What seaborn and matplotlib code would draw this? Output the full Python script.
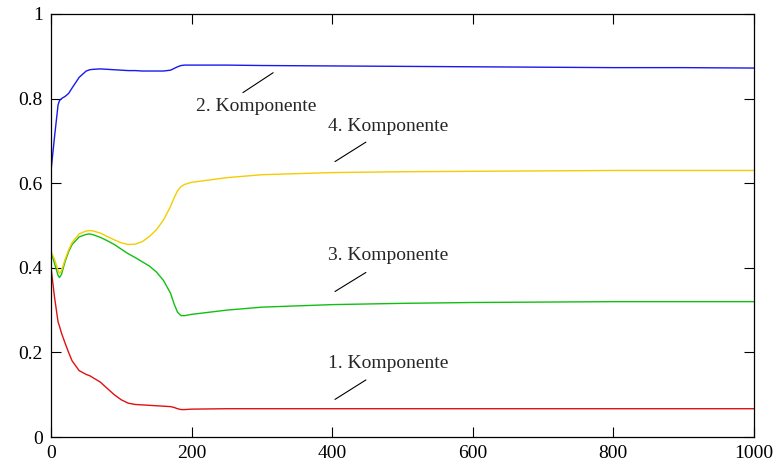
import numpy as np
import pandas as pd
import matplotlib
matplotlib.use("Agg")
import matplotlib.pyplot as plt
import seaborn as sns

x = [0, 5, 10, 12, 15, 20, 25, 30, 40, 50, 55, 60, 70, 80, 90, 100, 110, 120, 130,
     140, 150, 160, 170, 175, 180, 185, 190, 200, 250, 300, 400, 500, 600, 700,
     800, 900, 1000]

komp1 = [0.400, 0.330, 0.272, 0.262, 0.245, 0.222, 0.200, 0.180, 0.157, 0.148, 0.145,
         0.140, 0.130, 0.115, 0.100, 0.088, 0.080, 0.077, 0.076, 0.075, 0.074, 0.073,
         0.072, 0.070, 0.067, 0.065, 0.065, 0.066, 0.067, 0.067, 0.067, 0.067, 0.067,
         0.067, 0.067, 0.067, 0.067]
komp2 = [0.630, 0.710, 0.785, 0.795, 0.800, 0.805, 0.812, 0.825, 0.850, 0.865, 0.868,
         0.869, 0.870, 0.869, 0.868, 0.867, 0.866, 0.866, 0.865, 0.865, 0.865, 0.865,
         0.867, 0.871, 0.875, 0.878, 0.879, 0.879, 0.879, 0.878, 0.877, 0.876, 0.875,
         0.874, 0.873, 0.873, 0.872]
komp3 = [0.438, 0.410, 0.382, 0.377, 0.385, 0.415, 0.438, 0.455, 0.473, 0.479, 0.480,
         0.478, 0.472, 0.464, 0.455, 0.444, 0.433, 0.424, 0.414, 0.404, 0.390, 0.370,
         0.340, 0.315, 0.295, 0.287, 0.287, 0.290, 0.300, 0.307, 0.313, 0.316, 0.318,
         0.319, 0.320, 0.320, 0.320]
komp4 = [0.438, 0.420, 0.394, 0.387, 0.393, 0.420, 0.442, 0.460, 0.480, 0.487, 0.488,
         0.487, 0.482, 0.474, 0.466, 0.459, 0.455, 0.456, 0.462, 0.474, 0.490, 0.513,
         0.545, 0.565, 0.582, 0.592, 0.597, 0.602, 0.613, 0.620, 0.625, 0.627, 0.628,
         0.629, 0.630, 0.630, 0.630]

labels = ["1. Komponente", "2. Komponente", "3. Komponente", "4. Komponente"]
colors = ["#e01010", "#1818f0", "#10c010", "#f5cc00"]

# label text positions and leader lines (data coords)
label_pos = [(479, 0.175), (292, 0.782), (479, 0.428), (479, 0.733)]
leader = [((404, 0.089), (448, 0.135)), ((273, 0.814), (316, 0.861)),
          ((404, 0.344), (448, 0.389)), ((404, 0.651), (448, 0.697))]

df = pd.concat([pd.DataFrame({"t": x, "wert": v, "komp": n})
                for n, v in zip(labels, [komp1, komp2, komp3, komp4])])

sns.set_style("ticks")
plt.rcParams["font.family"] = ["Liberation Serif", "DejaVu Serif"]

fig = plt.figure(figsize=(7.78, 4.63), dpi=100)
ax = fig.add_axes([0.0656, 0.056, 0.9034, 0.914])

sns.lineplot(data=df, x="t", y="wert", hue="komp", palette=dict(zip(labels, colors)),
             linewidth=1.0, legend=False, ax=ax, sort=False)

for lab, (tx, ty), ((x0, y0), (x1, y1)) in zip(labels, label_pos, leader):
    ax.text(tx, ty, lab, ha="center", va="center", fontsize=14)
    ax.plot([x0, x1], [y0, y1], color="black", lw=0.8)

ax.set_xlim(0, 1000)
ax.set_ylim(0, 1)
ax.set_xticks([0, 200, 400, 600, 800, 1000])
ax.set_yticks([0, 0.2, 0.4, 0.6, 0.8, 1.0])
ax.set_yticklabels(["0", "0.2", "0.4", "0.6", "0.8", "1"])
ax.tick_params(direction="in", length=7, width=0.8, top=True, right=True,
               labelsize=14, colors="black", pad=6)
ax.set_xlabel("")
ax.set_ylabel("")
for s in ax.spines.values():
    s.set_visible(True)
    s.set_color("black")
    s.set_linewidth(0.9)

fig.savefig("out.png", dpi=100)
